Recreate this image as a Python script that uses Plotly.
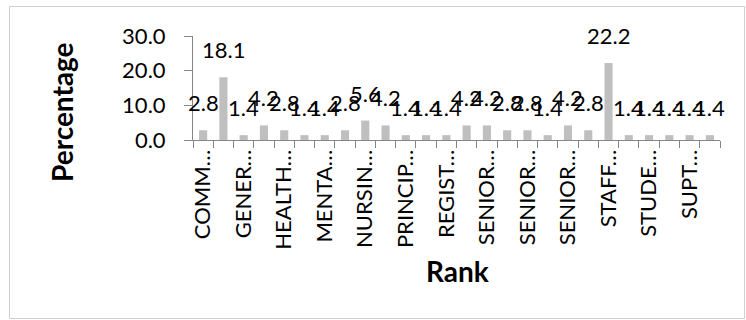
import plotly.graph_objects as go

# ---- data ----
categories = [
    "COMMUNITY HEALTH NURSE", "DEPUTY DIRECTOR OF NURSING",
    "GENERAL NURSE", "HEAD NURSE",
    "HEALTH ASSISTANT", "MATRON",
    "MENTAL HEALTH NURSE", "MIDWIFE",
    "NURSING OFFICER", "NURSING SISTER",
    "PRINCIPAL NURSING OFFICER", "PUBLIC HEALTH NURSE",
    "REGISTERED NURSE", "REGISTERED MIDWIFE II",
    "SENIOR MIDWIFE", "SENIOR NURSE",
    "SENIOR NURSING OFFICER", "SENIOR PUBLIC HEALTH NURSE",
    "SENIOR STAFF MIDWIFE", "SENIOR STAFF NURSE",
    "STAFF NURSE", "STAFF MIDWIFE II",
    "STUDENT NURSE", "SUPERVISOR",
    "SUPT. NURSE", "TUTOR",
]
tick_labels = [
    "COMM…", "", "GENER…", "", "HEALTH…", "", "MENTA…", "",
    "NURSIN…", "", "PRINCIP…", "", "REGIST…", "", "SENIOR…", "",
    "SENIOR…", "", "SENIOR…", "", "STAFF…", "", "STUDE…", "",
    "SUPT…", "",
]
percentages = [
    2.8, 18.1, 1.4, 4.2, 2.8, 1.4, 1.4, 2.8, 5.6, 4.2, 1.4, 1.4, 1.4,
    4.2, 4.2, 2.8, 2.8, 1.4, 4.2, 2.8, 22.2, 1.4, 1.4, 1.4, 1.4, 1.4,
]
y_ticks = [0, 10, 20, 30]

# ---- geometry (pixels) ----
W, H = 746, 320
ML, MR, MT, MB = 193, 26, 36, 180
PW, PH = W - ML - MR, H - MT - MB

def px_to_paper_x(px):
    return (px - ML) / PW

def px_to_paper_y(py):
    return (H - MB - py) / PH

FONT = "Lato"
FS = 22
TITLE_FS = 28

fig = go.Figure()
fig.add_trace(go.Bar(
    x=categories,
    y=percentages,
    marker=dict(color="#bfbfbf", line=dict(width=0)),
    cliponaxis=False,
    hoverinfo="x+y",
))

annotations = []
for c, v in zip(categories, percentages):
    annotations.append(dict(
        x=c, y=v, xref="x", yref="y",
        text=f"{v:.1f}", showarrow=False,
        yanchor="bottom", xanchor="center", yshift=12,
        font=dict(family=FONT, size=FS, color="#000000"),
    ))

annotations.append(dict(
    x=px_to_paper_x(62), y=px_to_paper_y(112), xref="paper", yref="paper",
    text="<b>Percentage</b>", textangle=-90, showarrow=False,
    xanchor="center", yanchor="middle",
    font=dict(family=FONT, size=TITLE_FS, color="#000000"),
))
annotations.append(dict(
    x=px_to_paper_x(457), y=px_to_paper_y(271), xref="paper", yref="paper",
    text="<b>Rank</b>", showarrow=False,
    xanchor="center", yanchor="middle",
    font=dict(family=FONT, size=TITLE_FS, color="#000000"),
))

fig.update_layout(
    width=W, height=H,
    margin=dict(l=ML, r=MR, t=MT, b=MB, pad=0),
    paper_bgcolor="white", plot_bgcolor="white",
    showlegend=False,
    bargap=0.6,
    font=dict(family=FONT, size=FS, color="#000000"),
    annotations=annotations,
    shapes=[dict(
        type="rect", xref="paper", yref="paper",
        x0=px_to_paper_x(9.5), x1=px_to_paper_x(744.5),
        y0=px_to_paper_y(318.5), y1=px_to_paper_y(6.5),
        line=dict(color="#d0d0d0", width=1), fillcolor="rgba(0,0,0,0)",
        layer="below",
    )],
)

fig.update_xaxes(
    type="category",
    range=[-0.5, len(categories) - 0.5],
    tickmode="array", tickvals=categories, ticktext=tick_labels,
    tickangle=-90, tickson="boundaries",
    ticks="outside", ticklen=7, tickcolor="#868686", tickwidth=1,
    showline=True, linecolor="#868686", linewidth=1,
    showgrid=False, zeroline=False,
    tickfont=dict(family=FONT, size=FS, color="#000000"),
)
fig.update_yaxes(
    range=[0, 30],
    tickmode="array", tickvals=y_ticks,
    ticktext=[f"{t:.1f}" for t in y_ticks],
    ticks="outside", ticklen=8, tickcolor="#868686", tickwidth=1,
    ticklabelstandoff=14,
    showline=True, linecolor="#868686", linewidth=1,
    showgrid=False, zeroline=False,
    tickfont=dict(family=FONT, size=FS, color="#000000"),
)

fig.write_html("out.html")
